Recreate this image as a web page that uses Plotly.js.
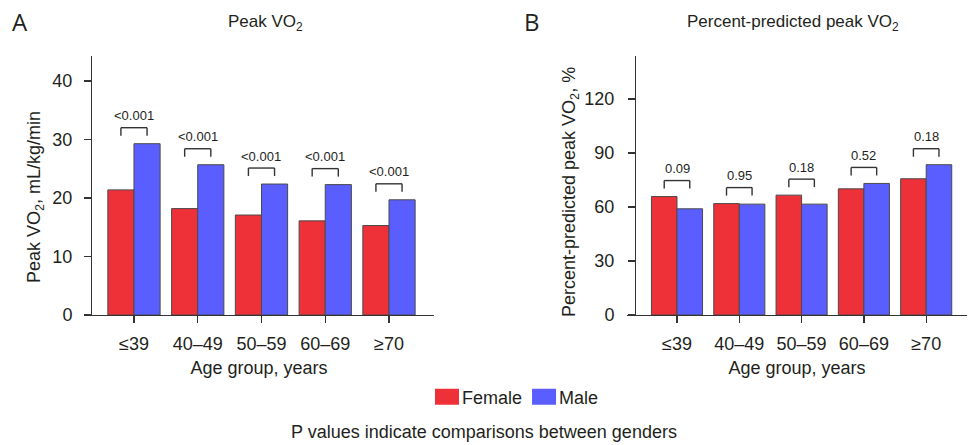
<!DOCTYPE html>
<html>
<head>
<meta charset="utf-8">
<script src="https://cdn.plot.ly/plotly-3.0.1.min.js"></script>
<style>html,body{margin:0;padding:0;background:#fff;}#chart{width:968px;height:445px;}</style>
</head>
<body>
<div id="chart"></div>
<script>
// ---- data ----
const ageGroups = ["≤39", "40–49", "50–59", "60–69", "≥70"];
const peakFemale = [21.4, 18.2, 17.1, 16.1, 15.3];
const peakMale = [29.3, 25.7, 22.4, 22.3, 19.7];
const peakP = ["<0.001", "<0.001", "<0.001", "<0.001", "<0.001"];
const pctFemale = [65.8, 61.9, 66.6, 70.1, 75.7];
const pctMale = [59.0, 61.6, 61.6, 73.1, 83.5];
const pctP = ["0.09", "0.95", "0.18", "0.52", "0.18"];
const yTicksA = [0, 10, 20, 30, 40];
const yTicksB = [0, 30, 60, 90, 120];

// ---- style ----
const RED = "#EE3039", BLUE = "#5B5EFF", EDGE = "#4a4a4a", TXT = "#231F20";
const FONT = "Liberation Sans, Arial, Helvetica, sans-serif";
const W = 968, H = 445;
const px = v => v / W;
const py = v => 1 - v / H;
const BARGAP = 0.18;
const HALF = (1 - BARGAP) / 4; // offset of each bar centre from group centre

const traces = [
  {type: "bar", name: "Female", x: ageGroups, y: peakFemale, xaxis: "x", yaxis: "y",
   marker: {color: RED, line: {color: EDGE, width: 1}}, showlegend: true, legendgroup: "f"},
  {type: "bar", name: "Male", x: ageGroups, y: peakMale, xaxis: "x", yaxis: "y",
   marker: {color: BLUE, line: {color: EDGE, width: 1}}, showlegend: true, legendgroup: "m"},
  {type: "bar", name: "Female", x: ageGroups, y: pctFemale, xaxis: "x2", yaxis: "y2",
   marker: {color: RED, line: {color: EDGE, width: 1}}, showlegend: false, legendgroup: "f"},
  {type: "bar", name: "Male", x: ageGroups, y: pctMale, xaxis: "x2", yaxis: "y2",
   marker: {color: BLUE, line: {color: EDGE, width: 1}}, showlegend: false, legendgroup: "m"}
];

// brackets and p-value labels built from the data
const shapes = [];
const annotations = [];
function addBrackets(fem, mal, pv, xr, yr) {
  fem.forEach((f, i) => {
    const top = Math.max(f, mal[i]);
    const xa = i - HALF, xb = i + HALF;
    const common = {type: "line", xref: xr, yref: yr, ysizemode: "pixel", yanchor: top,
                    line: {color: "#333", width: 1.4}};
    shapes.push(Object.assign({x0: xa, x1: xb, y0: 16, y1: 16}, common));
    shapes.push(Object.assign({x0: xa, x1: xa, y0: 8, y1: 16}, common));
    shapes.push(Object.assign({x0: xb, x1: xb, y0: 8, y1: 16}, common));
    annotations.push({xref: xr, yref: yr, x: i, y: top, yshift: 28, text: pv[i],
      showarrow: false, xanchor: "center", yanchor: "middle",
      font: {family: FONT, size: 13, color: TXT}});
  });
}
addBrackets(peakFemale, peakMale, peakP, "x", "y");
addBrackets(pctFemale, pctMale, pctP, "x2", "y2");

const big = {family: FONT, size: 18, color: TXT};
// panel letters and titles
annotations.push({xref: "paper", yref: "paper", x: px(10), y: py(22), xanchor: "left", yanchor: "middle",
  text: "A", showarrow: false, font: {family: "Open Sans, Lato, sans-serif", size: 24, color: TXT}});
annotations.push({xref: "paper", yref: "paper", x: px(522), y: py(22), xanchor: "left", yanchor: "middle",
  text: "B", showarrow: false, font: {family: "Open Sans, Lato, sans-serif", size: 24, color: TXT}});
annotations.push({xref: "paper", yref: "paper", x: px(265), y: py(23), xanchor: "center", yanchor: "middle",
  text: "Peak VO<sub>2</sub>", showarrow: false, font: {family: FONT, size: 17, color: TXT}});
annotations.push({xref: "paper", yref: "paper", x: px(793), y: py(23), xanchor: "center", yanchor: "middle",
  text: "Percent-predicted peak VO<sub>2</sub>", showarrow: false, font: {family: FONT, size: 17, color: TXT}});
// y-axis titles
annotations.push({xref: "paper", yref: "paper", x: px(36), y: py(197), xanchor: "center", yanchor: "middle",
  textangle: -90, text: "Peak VO<sub>2</sub>, mL/kg/min", showarrow: false, font: big});
annotations.push({xref: "paper", yref: "paper", x: px(570), y: py(192), xanchor: "center", yanchor: "middle",
  textangle: -90, text: "Percent-predicted peak VO<sub>2</sub>, %", showarrow: false, font: big});
// footer
annotations.push({xref: "paper", yref: "paper", x: px(484), y: py(432), xanchor: "center", yanchor: "middle",
  text: "P values indicate comparisons between genders", showarrow: false, font: big});

const xCommon = {type: "category", showline: true, linecolor: "#333", linewidth: 1.3,
  ticks: "outside", ticklen: 7, tickcolor: "#333", tickwidth: 1.3, tickfont: big,
  ticklabelstandoff: 5, showgrid: false, zeroline: false, fixedrange: true,
  title: {text: "Age group, years", font: big, standoff: 8}};
const yCommon = {showline: true, linecolor: "#333", linewidth: 1.3, ticks: "outside", ticklen: 7,
  tickcolor: "#333", tickwidth: 1.3, tickfont: big, showgrid: false, zeroline: false,
  anchor: "free", fixedrange: true};

const layout = {
  width: W, height: H, margin: {l: 0, r: 0, t: 0, b: 0},
  paper_bgcolor: "#fff", plot_bgcolor: "rgba(0,0,0,0)",
  barmode: "group", bargap: BARGAP, bargroupgap: 0,
  font: {family: FONT, color: TXT},
  xaxis: Object.assign({}, xCommon, {domain: [px(84), px(434)], range: [-0.784, 4.706], anchor: "y"}),
  yaxis: Object.assign({}, yCommon, {domain: [py(315), py(56)], range: [0, 44.3],
    tickvals: yTicksA, position: px(91), ticklabelstandoff: 8}),
  xaxis2: Object.assign({}, xCommon, {domain: [px(627), px(967)], range: [-0.8025, 4.655], anchor: "y2"}),
  yaxis2: Object.assign({}, yCommon, {domain: [py(315), py(56)], range: [0, 143.9],
    tickvals: yTicksB, position: px(635), ticklabelstandoff: 10}),
  showlegend: true,
  legend: {orientation: "h", x: px(422), y: py(397), xanchor: "left", yanchor: "middle",
    font: {family: FONT, size: 18, color: TXT}, bgcolor: "rgba(0,0,0,0)", itemwidth: 30,
    traceorder: "normal"},
  shapes: shapes, annotations: annotations
};

// enlarge legend swatches to 24x16 (no outline) and tighten spacing between entries
function styleLegend(gd) {
  const items = Array.from(gd.querySelectorAll(".legend .traces"));
  let prevEnd = null;
  items.forEach((item, k) => {
    const text = item.querySelector("text.legendtext");
    const path = item.querySelector(".legendpoints path");
    if (!text || !path) return;
    if (k > 0 && prevEnd !== null) {
      const tr = item.getAttribute("transform") || "";
      const m = tr.match(/translate\(\s*([-\d.]+)[ ,]+([-\d.]+)\s*\)/);
      if (m) {
        const tRect = text.getBoundingClientRect();
        const dx = (prevEnd + 10) - (tRect.left - 27);
        item.setAttribute("transform", "translate(" + (parseFloat(m[1]) + dx) + "," + m[2] + ")");
      }
    }
    const pr = path.getBoundingClientRect();
    const cx = (pr.left + pr.right) / 2; // screen x of local origin
    const tRect = text.getBoundingClientRect();
    const x0 = tRect.left - 27 - cx, x1 = tRect.left - 3 - cx;
    path.setAttribute("d", "M" + x1 + ",8H" + x0 + "V-8H" + x1 + "Z");
    path.style.strokeWidth = "0px";
    path.style.stroke = "none";
    prevEnd = text.getBoundingClientRect().right;
  });
}

Plotly.newPlot("chart", traces, layout, {staticPlot: true, displayModeBar: false})
  .then(gd => styleLegend(gd));
</script>
</body>
</html>
